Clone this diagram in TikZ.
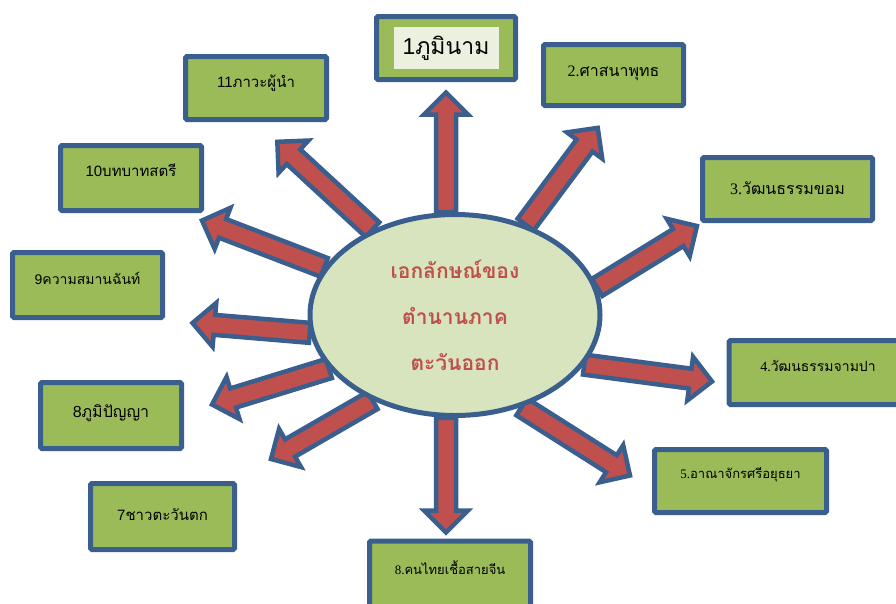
\documentclass[tikz,border=0pt]{standalone}
\usepackage{fontspec}
\setmainfont{Liberation Sans}
\newfontfamily\thaifont[Script=Thai]{Loma}
\newfontfamily\romanfont{Liberation Serif}
\usepackage{tikz}
\usetikzlibrary{calc}
\usetikzlibrary{shapes.geometric}
\usetikzlibrary{backgrounds}

\definecolor{boxgreen}{HTML}{9BBB59}
\definecolor{edgeblue}{HTML}{3A5F8E}
\definecolor{arrowred}{HTML}{C0504D}
\definecolor{hubgreen}{HTML}{D7E4BD}
\definecolor{hilite}{HTML}{EBF1DE}

\newcommand\bigarrow[2]{%
  \draw[blockarrow] let \p1=(#1), \p2=(#2),
    \n1={atan2(\y2-\y1,\x2-\x1)}, \n2={veclen(\x2-\x1,\y2-\y1)} in
    [shift={(\p1)},rotate=\n1]
    (0pt,-10pt) -- ({\n2*1pt-22pt},-10pt) -- ({\n2*1pt-22pt},-22pt) -- ({\n2*1pt},0pt)
    -- ({\n2*1pt-22pt},22pt) -- ({\n2*1pt-22pt},10pt) -- (0pt,10pt) -- cycle;}
\newcommand\fs[1]{\fontsize{#1}{1.2\dimexpr#1pt\relax}\selectfont}

\begin{document}
\begin{tikzpicture}[x=1pt,y=-1pt]
\tikzstyle{topic} = [draw=edgeblue, fill=boxgreen, line width=5pt, rounded corners=1.5pt, inner sep=0pt]
\tikzstyle{blockarrow} = [draw=edgeblue, fill=arrowred, line width=4.5pt, line join=miter]
\useasboundingbox (0,0) rectangle (896,603);
\clip (0,0) rectangle (896,603);
\node[ellipse, draw=edgeblue, fill=hubgreen, line width=5pt, minimum width=290pt, minimum height=201pt,
  inner sep=0pt, align=center, text=arrowred, font=\thaifont\bfseries\fontsize{21}{46}\selectfont]
  (hub) at (455,315) {เอกลักษณ์ของ\\ตำนานภาค\\ตะวันออก};
% boxes, clockwise from the top
\node[topic, minimum width=139pt, minimum height=63pt] (b1) at (446,48) {};
\node[fill=hilite, minimum width=105pt, minimum height=42pt, inner sep=0pt, font=\fs{23}]
  (t1) at (b1) {1{\thaifont ภูมินาม}};
\node[topic, minimum width=140pt, minimum height=61pt,
  label={[font=\fs{16},yshift=2pt]center:{{\romanfont 2.}{\thaifont ศาสนาพุทธ}}}] (b2) at (613.5,75) {};
\node[topic, minimum width=170pt, minimum height=63pt,
  label={[font=\fs{16},yshift=1pt]center:{{\romanfont 3.}{\thaifont วัฒนธรรมขอม}}}] (b3) at (787.5,189) {};
\node[topic, minimum width=178pt, minimum height=64pt,
  label={[font=\fs{14},yshift=7pt]center:{{\romanfont 4.}{\thaifont วัฒนธรรมจามปา}}}] (b4) at (818,372.5) {};
\node[topic, minimum width=172pt, minimum height=63pt,
  label={[font=\fs{13},yshift=6pt]center:{{\romanfont 5.}{\thaifont อาณาจักรศรีอยุธยา}}}] (b5) at (740.5,481) {};
\node[topic, minimum width=161pt, minimum height=68pt,
  label={[font=\fs{13},yshift=7pt]center:{{\romanfont 8.}{\thaifont คนไทยเชื้อสายจีน}}}] (b6) at (450,575) {};
\node[topic, minimum width=144pt, minimum height=66pt,
  label={[font=\fs{15},yshift=2pt]center:{7{\thaifont ชาวตะวันตก}}}] (b7) at (162.5,516.5) {};
\node[topic, minimum width=141pt, minimum height=66pt,
  label={[font=\fs{16},yshift=2pt]center:{8{\thaifont ภูมิปัญญา}}}] (b8) at (111,415.5) {};
\node[topic, minimum width=150pt, minimum height=65pt,
  label={[font=\fs{14},yshift=7pt]center:{9{\thaifont ความสมานฉันท์}}}] (b9) at (87.5,285) {};
\node[topic, minimum width=141pt, minimum height=65pt,
  label={[font=\fs{15},yshift=8pt]center:{10{\thaifont บทบาทสตรี}}}] (b10) at (131,178) {};
\node[topic, minimum width=141pt, minimum height=63pt,
  label={[font=\fs{15},yshift=5pt]center:{11{\thaifont ภาวะผู้นำ}}}] (b11) at (256,88) {};
\begin{scope}[on background layer]
\bigarrow{hub.95}{[yshift=-10.5pt]b1.south}
\bigarrow{hub.52}{[xshift=-15.5pt,yshift=-19.5pt]b2.south}
\bigarrow{hub.11}{[xshift=-3pt,yshift=-3pt]b3.south west}
\bigarrow{hub.-21}{[xshift=-14.5pt,yshift=-9pt]b4.west}
\bigarrow{hub.-54}{[xshift=-22pt,yshift=5.5pt]b5.west}
\bigarrow{hub.-95}{[xshift=-4pt,yshift=6pt]b6.north}
\bigarrow{hub.-134}{[xshift=34pt,yshift=22pt]b7.north east}
\bigarrow{hub.-157}{[xshift=28pt,yshift=11pt]b8.east}
\bigarrow{hub.-173}{[xshift=27.5pt,yshift=-3pt]b9.south east}
\bigarrow{hub.160}{[xshift=-2pt,yshift=-7.5pt]b10.south east}
\bigarrow{hub.134}{[xshift=21pt,yshift=-19.5pt]b11.south}
\end{scope}
\end{tikzpicture}
\end{document}
